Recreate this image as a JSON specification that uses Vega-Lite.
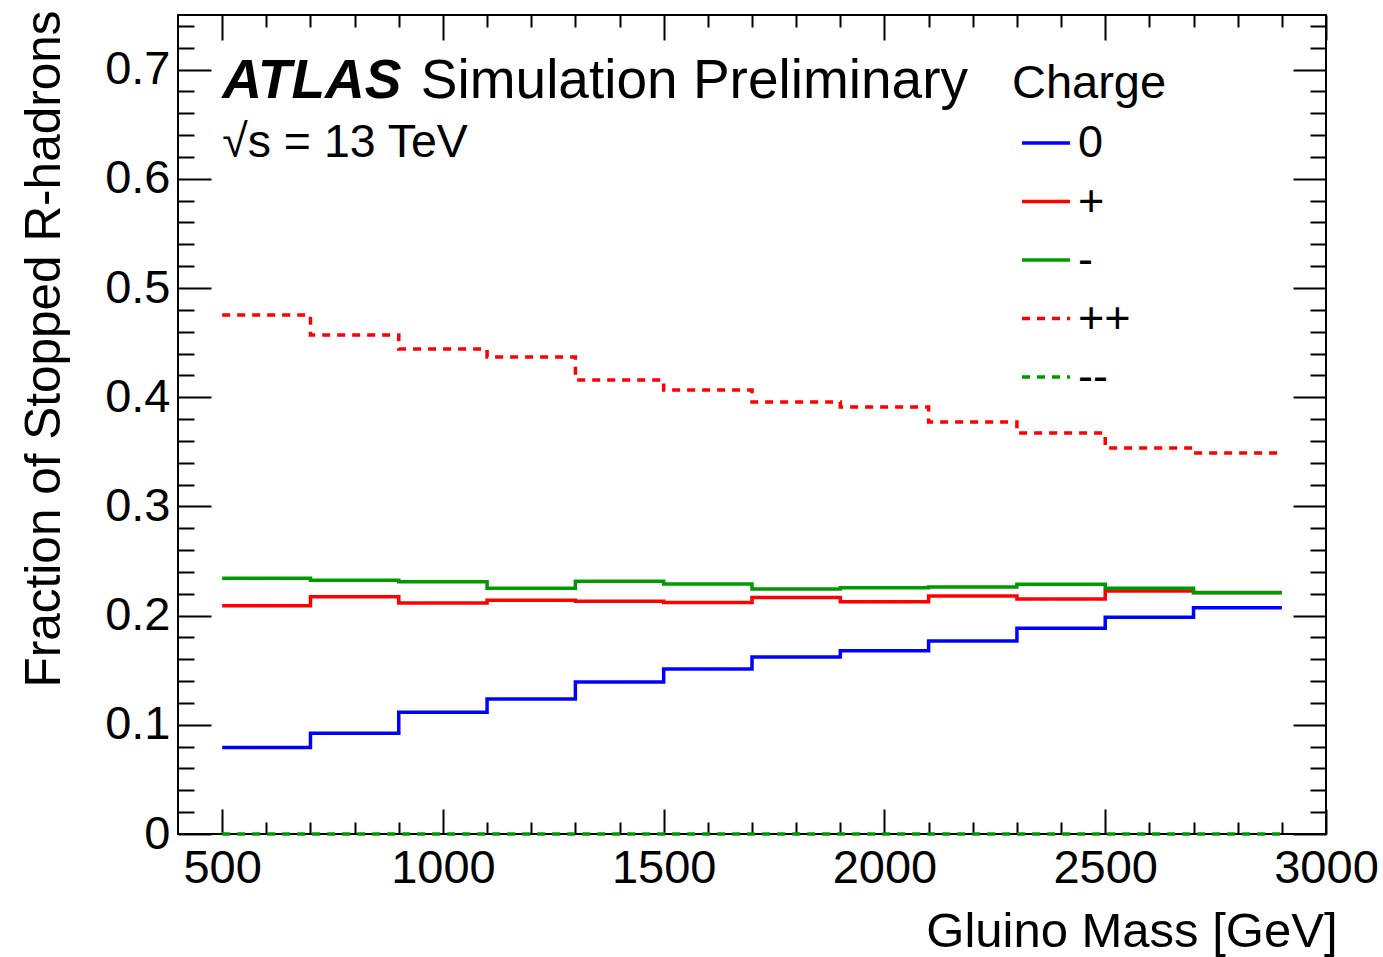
{
  "$schema": "https://vega.github.io/schema/vega-lite/v6.json",
  "autosize": "none",
  "width": 1148,
  "height": 819,
  "padding": {"left": 178, "top": 15, "right": 57, "bottom": 123},
  "background": "white",
  "config": {
    "view": {"stroke": "black", "strokeWidth": 2},
    "font": "Liberation Sans",
    "axis": {
      "domain": false,
      "grid": false,
      "tickColor": "black",
      "tickWidth": 2,
      "labelFont": "Liberation Sans",
      "labelColor": "black",
      "labelFontSize": 47,
      "labelFlush": false,
      "labelOverlap": false,
      "labelBound": false,
      "titleFont": "Liberation Sans",
      "titleFontWeight": "normal",
      "titleColor": "black",
      "titleFontSize": 49
    },
    "legend": {
      "orient": "none",
      "legendX": 834,
      "legendY": 46,
      "padding": 0,
      "titleFont": "Liberation Sans",
      "titleFontSize": 47,
      "titleFontWeight": "normal",
      "titleColor": "black",
      "titlePadding": 9,
      "labelFont": "Liberation Sans",
      "labelFontSize": 45,
      "labelColor": "black",
      "labelOffset": 6,
      "symbolType": "stroke",
      "symbolSize": 2304,
      "symbolStrokeWidth": 3.5,
      "symbolOffset": 8,
      "rowPadding": 9.5
    }
  },
  "datasets": {
    "steps": [
      {"mass": 500, "frac": 0.0791, "charge": "0"},
      {"mass": 700, "frac": 0.0922, "charge": "0"},
      {"mass": 900, "frac": 0.1114, "charge": "0"},
      {"mass": 1100, "frac": 0.1236, "charge": "0"},
      {"mass": 1300, "frac": 0.1392, "charge": "0"},
      {"mass": 1500, "frac": 0.1511, "charge": "0"},
      {"mass": 1700, "frac": 0.1621, "charge": "0"},
      {"mass": 1900, "frac": 0.1679, "charge": "0"},
      {"mass": 2100, "frac": 0.1767, "charge": "0"},
      {"mass": 2300, "frac": 0.1884, "charge": "0"},
      {"mass": 2500, "frac": 0.1984, "charge": "0"},
      {"mass": 2700, "frac": 0.2072, "charge": "0"},
      {"mass": 2900, "frac": 0.2072, "charge": "0"},
      {"mass": 500, "frac": 0.2091, "charge": "+"},
      {"mass": 700, "frac": 0.2173, "charge": "+"},
      {"mass": 900, "frac": 0.2115, "charge": "+"},
      {"mass": 1100, "frac": 0.2140, "charge": "+"},
      {"mass": 1300, "frac": 0.2131, "charge": "+"},
      {"mass": 1500, "frac": 0.2120, "charge": "+"},
      {"mass": 1700, "frac": 0.2166, "charge": "+"},
      {"mass": 1900, "frac": 0.2127, "charge": "+"},
      {"mass": 2100, "frac": 0.2179, "charge": "+"},
      {"mass": 2300, "frac": 0.2152, "charge": "+"},
      {"mass": 2500, "frac": 0.2225, "charge": "+"},
      {"mass": 2700, "frac": 0.2212, "charge": "+"},
      {"mass": 2900, "frac": 0.2212, "charge": "+"},
      {"mass": 500, "frac": 0.2342, "charge": "-"},
      {"mass": 700, "frac": 0.2323, "charge": "-"},
      {"mass": 900, "frac": 0.2310, "charge": "-"},
      {"mass": 1100, "frac": 0.2250, "charge": "-"},
      {"mass": 1300, "frac": 0.2314, "charge": "-"},
      {"mass": 1500, "frac": 0.2289, "charge": "-"},
      {"mass": 1700, "frac": 0.2244, "charge": "-"},
      {"mass": 1900, "frac": 0.2256, "charge": "-"},
      {"mass": 2100, "frac": 0.2262, "charge": "-"},
      {"mass": 2300, "frac": 0.2287, "charge": "-"},
      {"mass": 2500, "frac": 0.2250, "charge": "-"},
      {"mass": 2700, "frac": 0.2210, "charge": "-"},
      {"mass": 2900, "frac": 0.2210, "charge": "-"},
      {"mass": 500, "frac": 0.4753, "charge": "++"},
      {"mass": 700, "frac": 0.4570, "charge": "++"},
      {"mass": 900, "frac": 0.4441, "charge": "++"},
      {"mass": 1100, "frac": 0.4368, "charge": "++"},
      {"mass": 1300, "frac": 0.4158, "charge": "++"},
      {"mass": 1500, "frac": 0.4066, "charge": "++"},
      {"mass": 1700, "frac": 0.3956, "charge": "++"},
      {"mass": 1900, "frac": 0.3910, "charge": "++"},
      {"mass": 2100, "frac": 0.3773, "charge": "++"},
      {"mass": 2300, "frac": 0.3672, "charge": "++"},
      {"mass": 2500, "frac": 0.3535, "charge": "++"},
      {"mass": 2700, "frac": 0.3489, "charge": "++"},
      {"mass": 2900, "frac": 0.3489, "charge": "++"},
      {"mass": 500, "frac": 0, "charge": "--"},
      {"mass": 700, "frac": 0, "charge": "--"},
      {"mass": 900, "frac": 0, "charge": "--"},
      {"mass": 1100, "frac": 0, "charge": "--"},
      {"mass": 1300, "frac": 0, "charge": "--"},
      {"mass": 1500, "frac": 0, "charge": "--"},
      {"mass": 1700, "frac": 0, "charge": "--"},
      {"mass": 1900, "frac": 0, "charge": "--"},
      {"mass": 2100, "frac": 0, "charge": "--"},
      {"mass": 2300, "frac": 0, "charge": "--"},
      {"mass": 2500, "frac": 0, "charge": "--"},
      {"mass": 2700, "frac": 0, "charge": "--"},
      {"mass": 2900, "frac": 0, "charge": "--"}
    ]
  },
  "resolve": {"axis": {"x": "independent", "y": "independent"}},
  "layer": [
    {
      "data": {"name": "steps"},
      "mark": {"type": "line", "interpolate": "step-after", "strokeWidth": 3.5},
      "encoding": {
        "x": {
          "field": "mass", "type": "quantitative",
          "scale": {"domain": [400, 3000], "nice": false, "zero": false},
          "axis": {
            "orient": "bottom",
            "title": "Gluino Mass [GeV]",
            "titleAlign": "right",
            "titleBaseline": "alphabetic",
            "titleAnchor": null,
            "titleX": 1159,
            "titleY": 112,
            "titleFontSize": 49,
            "values": [500,600,700,800,900,1000,1100,1200,1300,1400,1500,1600,1700,1800,1900,2000,2100,2200,2300,2400,2500,2600,2700,2800,2900,3000],
            "labelExpr": "datum.value % 500 === 0 ? format(datum.value, 'd') : ''",
            "tickSize": {"condition": {"test": "datum.value % 500 === 0", "value": -25}, "value": -12},
            "labelPadding": 36
          }
        },
        "y": {
          "field": "frac", "type": "quantitative",
          "scale": {"domain": [0, 0.75], "nice": false},
          "axis": {
            "orient": "left",
            "title": "Fraction of Stopped R-hadrons",
            "titleAngle": -90,
            "titleAlign": "right",
            "titleBaseline": "alphabetic",
            "titleAnchor": null,
            "titleX": -119,
            "titleY": -5,
            "titleFontSize": 49.5,
            "values": [0,0.02,0.04,0.06,0.08,0.1,0.12,0.14,0.16,0.18,0.2,0.22,0.24,0.26,0.28,0.3,0.32,0.34,0.36,0.38,0.4,0.42,0.44,0.46,0.48,0.5,0.52,0.54,0.56,0.58,0.6,0.62,0.64,0.66,0.68,0.7,0.72,0.74],
            "labelExpr": "abs(round(datum.value*100) % 10) === 0 ? (datum.value === 0 ? '0' : format(datum.value, '.1f')) : ''",
            "tickSize": {"condition": {"test": "abs(round(datum.value*100) % 10) === 0", "value": -33}, "value": -16},
            "labelPadding": 41
          }
        },
        "color": {
          "field": "charge", "type": "nominal", "title": "Charge",
          "scale": {"domain": ["0", "+", "-", "++", "--"], "range": ["#0000ff", "#ff0000", "#009900", "#ff0000", "#009900"]}
        },
        "strokeDash": {
          "field": "charge", "type": "nominal", "title": "Charge",
          "scale": {"domain": ["0", "+", "-", "++", "--"], "range": [[1, 0], [1, 0], [1, 0], [8, 7], [8, 7]]}
        }
      }
    },
    {
      "data": {"name": "steps"},
      "mark": {"type": "point", "opacity": 0},
      "encoding": {
        "x": {
          "field": "mass", "type": "quantitative",
          "axis": {
            "orient": "top", "title": null, "labels": false,
            "values": [500,600,700,800,900,1000,1100,1200,1300,1400,1500,1600,1700,1800,1900,2000,2100,2200,2300,2400,2500,2600,2700,2800,2900,3000],
            "tickSize": {"condition": {"test": "datum.value % 500 === 0", "value": -25}, "value": -12}
          }
        },
        "y": {
          "field": "frac", "type": "quantitative",
          "axis": {
            "orient": "right", "title": null, "labels": false,
            "values": [0,0.02,0.04,0.06,0.08,0.1,0.12,0.14,0.16,0.18,0.2,0.22,0.24,0.26,0.28,0.3,0.32,0.34,0.36,0.38,0.4,0.42,0.44,0.46,0.48,0.5,0.52,0.54,0.56,0.58,0.6,0.62,0.64,0.66,0.68,0.7,0.72,0.74],
            "tickSize": {"condition": {"test": "abs(round(datum.value*100) % 10) === 0", "value": -33}, "value": -16}
          }
        }
      }
    },
    {
      "data": {"values": [{}]},
      "mark": {"type": "text", "text": "ATLAS", "font": "Liberation Sans", "fontSize": 55, "fontWeight": "bold", "fontStyle": "italic", "align": "left", "baseline": "alphabetic", "color": "black"},
      "encoding": {
        "x": {"datum": 500, "type": "quantitative", "axis": null},
        "y": {"datum": 0.674, "type": "quantitative", "axis": null}
      }
    },
    {
      "data": {"values": [{}]},
      "mark": {"type": "text", "text": "Simulation Preliminary", "font": "Liberation Sans", "fontSize": 55, "align": "left", "baseline": "alphabetic", "color": "black"},
      "encoding": {
        "x": {"datum": 950, "type": "quantitative", "axis": null},
        "y": {"datum": 0.674, "type": "quantitative", "axis": null}
      }
    },
    {
      "data": {"values": [{}]},
      "mark": {"type": "text", "text": "√s = 13 TeV", "font": "Liberation Sans", "fontSize": 46.5, "align": "left", "baseline": "alphabetic", "color": "black"},
      "encoding": {
        "x": {"datum": 500, "type": "quantitative", "axis": null},
        "y": {"datum": 0.62, "type": "quantitative", "axis": null}
      }
    }
  ]
}
